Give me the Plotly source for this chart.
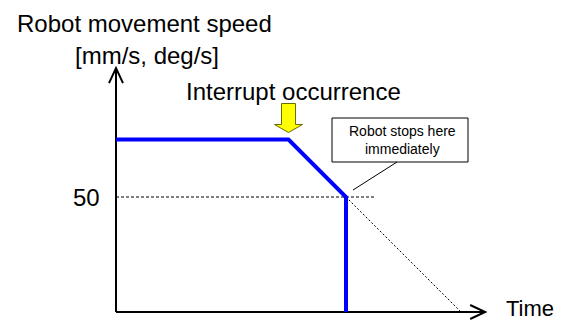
import plotly.graph_objects as go

# speed profile of the robot after an interrupt (time in arbitrary units)
profile_time = [0.0, 3.0, 4.0, 4.0]
profile_speed = [75, 75, 50, 0]

# deceleration that would have continued without the immediate stop
decel_time = [4.0, 6.0]
decel_speed = [50, 0]

# reference speed guide line
ref_speed = 50
ref_line_end = 4.5

interrupt_time = 3.0
plateau_speed = 75
stop_time = 4.0

time_axis_end = 6.42
speed_axis_end = 106

y_tick_vals = [50]
y_tick_text = ["50"]

FONT = "Liberation Sans, Arial, sans-serif"
W, H = 561, 320

fig = go.Figure()

# axis lines
fig.add_trace(go.Scatter(x=[0, 0], y=[0, speed_axis_end], mode="lines",
                         line={"color": "black", "width": 2}, hoverinfo="skip"))
fig.add_trace(go.Scatter(x=[0, time_axis_end], y=[0, 0], mode="lines",
                         line={"color": "black", "width": 2}, hoverinfo="skip"))

# dashed guides
fig.add_trace(go.Scatter(x=[0, ref_line_end], y=[ref_speed, ref_speed], mode="lines",
                         line={"color": "black", "width": 1, "dash": "3px,2px"},
                         hoverinfo="skip"))
fig.add_trace(go.Scatter(x=decel_time, y=decel_speed, mode="lines",
                         line={"color": "black", "width": 1, "dash": "2px,2px"},
                         hoverinfo="skip"))

# robot speed profile
fig.add_trace(go.Scatter(x=profile_time, y=profile_speed, mode="lines",
                         line={"color": "#0000FF", "width": 4}, hoverinfo="skip"))

shapes = [
    # axis arrowheads
    dict(type="path", xref="x", yref="y", xsizemode="pixel", ysizemode="pixel",
         xanchor=0, yanchor=speed_axis_end, path="M-7,-15 L0,0 L7,-15",
         line={"color": "black", "width": 2}),
    dict(type="path", xref="x", yref="y", xsizemode="pixel", ysizemode="pixel",
         xanchor=time_axis_end, yanchor=0, path="M-15,7 L0,0 L-15,-7",
         line={"color": "black", "width": 2}),
    # yellow interrupt arrow
    dict(type="path", xref="x", yref="y", xsizemode="pixel", ysizemode="pixel",
         xanchor=interrupt_time, yanchor=plateau_speed,
         path="M0,7 L-14,15 L-7,15 L-7,36 L7,36 L7,15 L14,15 Z",
         fillcolor="#FFFF00", line={"color": "#6B6B00", "width": 1}),
    # callout box and leader
    dict(type="rect", xref="x", yref="y", xsizemode="pixel", ysizemode="pixel",
         xanchor=stop_time, yanchor=ref_speed, x0=-14, x1=122, y0=35, y1=79,
         fillcolor="white", line={"color": "black", "width": 1}),
    dict(type="line", xref="x", yref="y", xsizemode="pixel", ysizemode="pixel",
         xanchor=stop_time, yanchor=ref_speed, x0=51, y0=35, x1=7, y1=7,
         line={"color": "black", "width": 1}),
]


def label(text, px, py, size, **kw):
    return dict(text=text, xref="paper", yref="paper", x=px / W, y=1 - py / H,
                showarrow=False, font={"family": FONT, "size": size, "color": "black"},
                **kw)


annotations = [
    label("Robot movement speed", 15, 23, 24, xanchor="left", yanchor="middle"),
    label("[mm/s, deg/s]", 147, 55, 24, xanchor="center", yanchor="middle"),
    label("Interrupt occurrence", 293, 91, 24, xanchor="center", yanchor="middle"),
    label("Time", 504, 308, 22, xanchor="left", yanchor="middle"),
    label("Robot stops here<br>immediately", 402, 140, 14,
          xanchor="center", yanchor="middle"),
]
for val, txt in zip(y_tick_vals, y_tick_text):
    annotations.append(dict(text=txt, xref="paper", yref="y", x=102 / W, y=val,
                            showarrow=False, xanchor="right", yanchor="middle",
                            font={"family": FONT, "size": 24, "color": "black"}))

fig.update_layout(
    width=W,
    height=H,
    margin={"l": 0, "r": 0, "t": 0, "b": 0},
    paper_bgcolor="white",
    plot_bgcolor="white",
    showlegend=False,
    xaxis={"range": [-116 / 57.5, 445 / 57.5], "visible": False, "fixedrange": True},
    yaxis={"range": [-8 / 2.3, 312 / 2.3], "visible": False, "fixedrange": True},
    shapes=shapes,
    annotations=annotations,
)

fig.write_html(
    "out.html",
    config={"displayModeBar": False},
    post_script="document.body.style.margin = '0px';",
)
